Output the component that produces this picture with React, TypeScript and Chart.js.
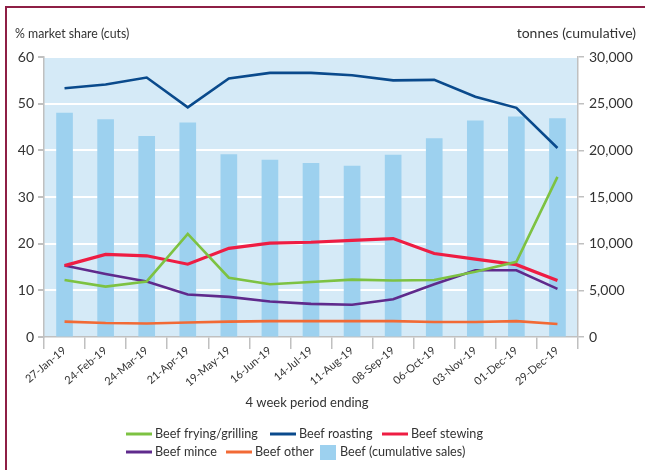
import React, { useEffect, useRef } from "react";
import { Chart, registerables } from "chart.js";
Chart.register(...registerables);

const periods = ["27-Jan-19","24-Feb-19","24-Mar-19","21-Apr-19","19-May-19","16-Jun-19","14-Jul-19","11-Aug-19","08-Sep-19","06-Oct-19","03-Nov-19","01-Dec-19","29-Dec-19"];
const fryingGrilling = [12.2,10.8,11.9,22.1,12.7,11.3,11.8,12.3,12.1,12.2,14.0,16.1,34.3];
const roasting = [53.3,54.1,55.6,49.2,55.4,56.6,56.6,56.1,55.0,55.1,51.5,49.1,40.5];
const stewing = [15.3,17.7,17.4,15.6,19.0,20.1,20.3,20.7,21.1,17.9,16.7,15.5,12.1];
const mince = [15.3,13.5,11.9,9.1,8.6,7.6,7.1,6.9,8.1,11.3,14.3,14.3,10.3];
const other = [3.3,3.0,2.9,3.1,3.3,3.4,3.4,3.4,3.4,3.2,3.2,3.4,2.8];
const cumulativeSales = [24000,23300,21500,22950,19550,18950,18600,18300,19500,21250,23150,23600,23400];

const seriesNames = ["Beef frying/grilling","Beef roasting","Beef stewing","Beef mince","Beef other","Beef (cumulative sales)"];
const seriesColors = ["#7dc242","#0a4a8c","#ee1d43","#5f2a8c","#f26a35","#9dd1ef"];

const FONT = "Lato, 'Open Sans', sans-serif";
const TEXT = "#333333";
const AXIS = "#c0c0c0";

const bgPlugin = {
  id: "plotBg",
  beforeDraw(chart: any) {
    const { ctx, chartArea } = chart;
    ctx.save();
    ctx.fillStyle = "#d5eaf7";
    ctx.fillRect(chartArea.left, chartArea.top, chartArea.width, chartArea.height);
    ctx.restore();
  },
};

const textPlugin = {
  id: "texts",
  afterDraw(chart: any) {
    const { ctx, chartArea } = chart;
    ctx.save();
    ctx.fillStyle = TEXT;
    ctx.textBaseline = "middle";
    ctx.font = `14px ${FONT}`;
    ctx.textAlign = "left";
    ctx.save();
    ctx.translate(15, 33);
    ctx.scale(0.88, 1);
    ctx.fillText("% market share (cuts)", 0, 0);
    ctx.restore();
    ctx.textAlign = "right";
    ctx.fillText("tonnes (cumulative)", 636, 33);
    ctx.font = `13px ${FONT}`;
    ctx.textAlign = "center";
    ctx.fillText("4 week period ending", (chartArea.left + chartArea.right) / 2 - 4, 403);

    // legend
    const rows = [
      { y: 434, starts: [126, 270, 382], idx: [0, 1, 2] },
      { y: 452, starts: [126, 226, 320], idx: [3, 4, 5] },
    ];
    ctx.textAlign = "left";
    ctx.font = `12.6px ${FONT}`;
    rows.forEach((r) => {
      r.idx.forEach((di, k) => {
        const x = r.starts[k];
        if (di === 5) {
          ctx.fillStyle = seriesColors[di];
          ctx.fillRect(x, r.y - 7, 16, 15);
          ctx.fillStyle = TEXT;
          ctx.fillText(seriesNames[di], x + 20, r.y);
        } else {
          ctx.strokeStyle = seriesColors[di];
          ctx.lineWidth = 3;
          ctx.beginPath();
          ctx.moveTo(x, r.y);
          ctx.lineTo(x + 26, r.y);
          ctx.stroke();
          ctx.fillStyle = TEXT;
          ctx.fillText(seriesNames[di], x + 29, r.y);
        }
      });
    });
    ctx.restore();
  },
};

export default function App() {
  const ref = useRef<HTMLCanvasElement>(null);
  useEffect(() => {
    if (!ref.current) return;
    const lineValues = [fryingGrilling, roasting, stewing, mince, other];
    const lineDatasets = lineValues.map((vals, i) => ({
      type: "line" as const,
      label: seriesNames[i],
      data: vals,
      borderColor: seriesColors[i],
      backgroundColor: seriesColors[i],
      borderWidth: i === 2 ? 3.2 : 2.6,
      pointRadius: 0,
      tension: 0,
      yAxisID: "y",
    }));
    const chart = new Chart(ref.current, {
      type: "bar",
      data: {
        labels: periods,
        datasets: [
          ...lineDatasets,
          {
            type: "bar" as const,
            label: seriesNames[5],
            data: cumulativeSales,
            backgroundColor: seriesColors[5],
            borderWidth: 0,
            barThickness: 16,
            yAxisID: "y1",
          },
        ] as any,
      },
      options: {
        responsive: false,
        animation: false,
        devicePixelRatio: 1,
        layout: { padding: { top: 57, left: 0, right: 0, bottom: 0 } },
        plugins: { legend: { display: false }, tooltip: { enabled: false }, title: { display: false } },
        scales: {
          x: {
            offset: true,
            grid: { display: true, drawOnChartArea: false, offset: true, tickColor: AXIS, tickLength: 12, lineWidth: 1.5 },
            border: { display: true, color: AXIS, width: 1.5 },
            ticks: { color: TEXT, font: { family: FONT, size: 11 }, maxRotation: 40, minRotation: 40, padding: -5, autoSkip: false },
            afterFit: (s: any) => { s.height = 133; },
          },
          y: {
            position: "left",
            min: 0,
            max: 60,
            ticks: { stepSize: 10, color: TEXT, font: { family: FONT, size: 14 }, padding: 4 },
            grid: {
              color: (c: any) => (c.tick && c.tick.value === 0 ? "rgba(0,0,0,0)" : "#ffffff"),
              lineWidth: 2,
              tickColor: AXIS,
              tickLength: 6,
            },
            border: { display: true, color: AXIS, width: 1.5 },
            afterFit: (s: any) => { s.width = 44; },
          },
          y1: {
            position: "right",
            min: 0,
            max: 30000,
            ticks: {
              stepSize: 5000,
              color: TEXT,
              font: { family: FONT, size: 14 },
              padding: 5,
              callback: (v: any) => Number(v).toLocaleString("en-US"),
            },
            grid: { drawOnChartArea: false, tickColor: AXIS, tickLength: 6, lineWidth: 1.5 },
            border: { display: true, color: AXIS, width: 1.5 },
            afterFit: (s: any) => { s.width = 67; },
          },
        },
      },
      plugins: [bgPlugin, textPlugin],
    });
    return () => chart.destroy();
  }, []);

  return (
    <div style={{ position: "absolute", left: 0, top: 0, width: 645, height: 470 }}>
      <div
        style={{
          position: "absolute",
          left: 5,
          top: 6,
          width: 640,
          height: 464,
          borderTop: "2px solid #8e1f45",
          borderLeft: "2px solid #8e1f45",
          boxSizing: "border-box",
        }}
      />
      <canvas ref={ref} width={645} height={470} style={{ position: "absolute", left: 0, top: 0, width: 645, height: 470 }} />
    </div>
  );
}
